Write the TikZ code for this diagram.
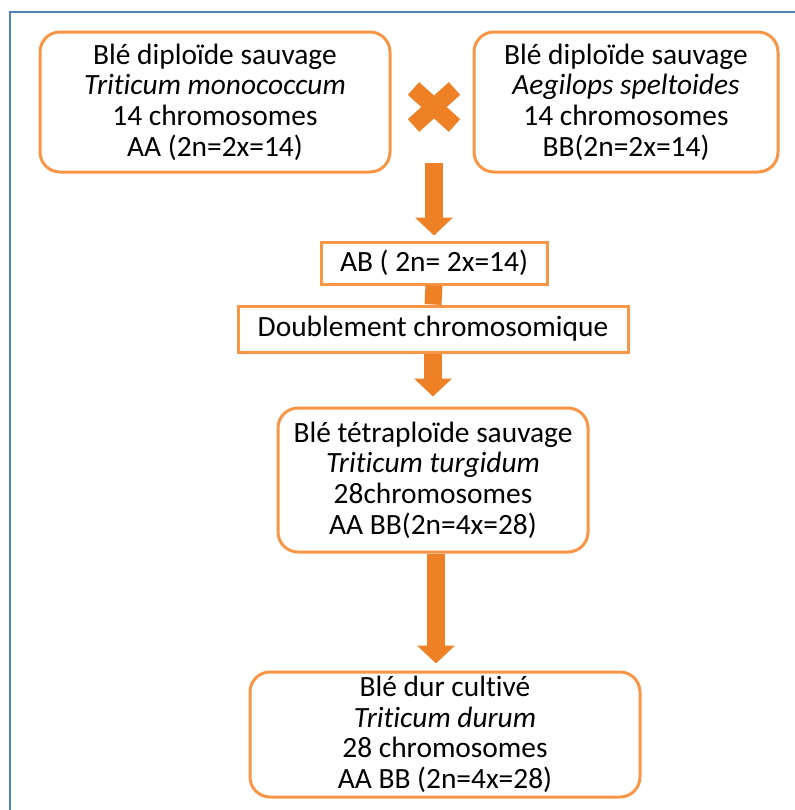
\documentclass[tikz,border=0pt]{standalone}
\usepackage{fontspec}
\setmainfont{Carlito}[RawFeature={-liga;-clig;-calt;-dlig}]
\usepackage{tikz}
\usetikzlibrary{positioning}
\usetikzlibrary{arrows.meta}
\usetikzlibrary{shapes.misc}
\definecolor{boxOrange}{RGB}{247,150,70}
\definecolor{arrowOrange}{RGB}{238,128,38}
\definecolor{frameBlue}{RGB}{79,129,189}
\tikzset{
  roundNode/.style={%
    rectangle, rounded corners=10pt, draw=boxOrange, line width=1.5pt,
    align=center, inner sep=0pt, font=\fontsize{14.7}{15.3}\selectfont,
  },
  flatNode/.style={%
    rectangle, draw=boxOrange, line width=1.5pt, inner sep=0pt,
    font=\fontsize{14.7}{15.3}\selectfont,
  },
  bigArrow/.style={%
    draw=arrowOrange, line width=9pt,
    -{Triangle[width=18.5pt,length=9pt]},
  },
  crossNode/.style={%
    cross out, draw=arrowOrange, line width=8.5pt,
    minimum width=12pt, minimum height=10pt,
  }
}

\begin{document}
\begin{tikzpicture}[x=0.5pt,y=-0.5pt]

          \useasboundingbox (0,0) rectangle (795,810);
          \draw[frameBlue, line width=0.8pt] (795,12) -- (10,12) -- (10,810);

          \node[roundNode,minimum width=175pt,minimum height=70pt] (diploA) at (215,102)
            {Blé diploïde sauvage\\ \textit{Triticum monococcum}\\ 14 chromosomes\\ AA (2n=2x=14)} ;
          \node[roundNode,minimum width=152pt,minimum height=70pt] (diploB) at (626,102)
            {Blé diploïde sauvage\\ \textit{Aegilops speltoides}\\ 14 chromosomes\\ BB(2n=2x=14)} ;
          \node[crossNode] (cross) at (434,107) {} ;
          \coordinate (crossBelow) at (434,163) ;
          \node[flatNode,minimum width=113pt,minimum height=21pt] (hybrid) at (434,263)
            {AB ( 2n= 2x=14)} ;
          \node[flatNode,minimum width=195pt,minimum height=23pt] (doubling) at (433,329)
            {Doublement chromosomique} ;
          \node[roundNode,minimum width=155pt,minimum height=72pt] (tetra) at (433,480)
            {Blé tétraploïde sauvage\\ \textit{Triticum turgidum}\\ 28chromosomes\\ AA BB(2n=4x=28)} ;
          \node[roundNode,minimum width=195pt,minimum height=62.5pt] (durum) at (445,734.5)
            {Blé dur cultivé\\ \textit{Triticum durum}\\ 28 chromosomes\\ AA BB (2n=4x=28)} ;

          \draw[bigArrow,shorten >=2.5pt] (crossBelow) -- (hybrid.north) ;
          \draw[draw=arrowOrange,line width=8.5pt] (hybrid.south) -- (doubling.north) ;
          \draw[bigArrow,shorten >=5pt] (doubling.south) -- (tetra.north) ;
          \draw[bigArrow,shorten >=3.5pt] ([xshift=1.5pt]tetra.south) -- ([xshift=1.5pt]tetra.south |- durum.north) ;

        \end{tikzpicture}
\end{document}
